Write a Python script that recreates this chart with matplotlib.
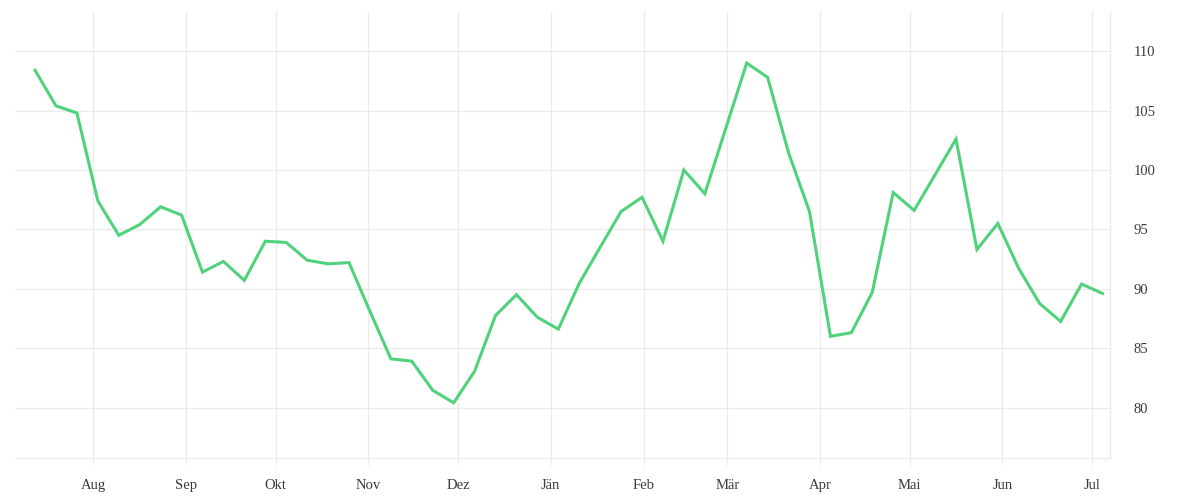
import numpy as np
import pandas as pd
import matplotlib
matplotlib.use("Agg")
import matplotlib.pyplot as plt

# Wochenwerte
start_date = "2022-07-12 12:00"
n_weeks = 52
values = [
    108.4, 105.4, 104.8, 97.4, 94.5, 95.4, 96.9, 96.2, 91.4, 92.3,
    90.7, 94.0, 93.9, 92.4, 92.1, 92.2, 88.1, 84.1, 83.9, 81.45,
    80.4, 83.05, 87.75, 89.5, 87.6, 86.6, 90.45, 93.5, 96.5, 97.7,
    94.0, 100.0, 98.0, 103.5, 109.0, 107.8, 101.45, 96.5, 86.0, 86.3,
    89.7, 98.1, 96.6, 99.6, 102.6, 93.3, 95.5, 91.7, 88.75, 87.25,
    90.4, 89.6,
]
month_labels = ["Aug", "Sep", "Okt", "Nov", "Dez", "Jän",
                "Feb", "Mär", "Apr", "Mai", "Jun", "Jul"]
y_ticks = [80, 85, 90, 95, 100, 105, 110]

dates = pd.date_range(start_date, periods=n_weeks, freq="7D")
month_ticks = pd.date_range("2022-08-01", periods=len(month_labels), freq="MS")

grid_col = "#ebebeb"
text_col = "#3a3a3a"
line_col = "#4fd27b"

plt.rcParams["font.family"] = ["Liberation Serif", "DejaVu Serif"]

fig = plt.figure(figsize=(12, 5), dpi=100)
ax = fig.add_axes([0.0125, 0.084, 0.9125, 0.892])

ax.plot(dates, values, color=line_col, linewidth=2.2, solid_joinstyle="miter")

ax.set_xlim(dates[0] - pd.Timedelta(days=6.7), dates[0] + pd.Timedelta(days=359.5))
ax.set_ylim(75.75, 113.3)

ax.set_xticks(month_ticks)
ax.set_xticklabels(month_labels)
ax.set_yticks(y_ticks)

ax.yaxis.tick_right()
ax.tick_params(axis="y", length=0, pad=17, labelsize=10.5, labelcolor=text_col)
ax.tick_params(axis="x", length=5, width=1, color=grid_col, pad=10,
               labelsize=10.5, labelcolor=text_col)

ax.grid(True, color=grid_col, linewidth=1)
ax.set_axisbelow(True)

for side in ["top", "left"]:
    ax.spines[side].set_visible(False)
for side in ["right", "bottom"]:
    ax.spines[side].set_color(grid_col)
    ax.spines[side].set_linewidth(1)

fig.savefig("out.png", dpi=100, facecolor="white")
